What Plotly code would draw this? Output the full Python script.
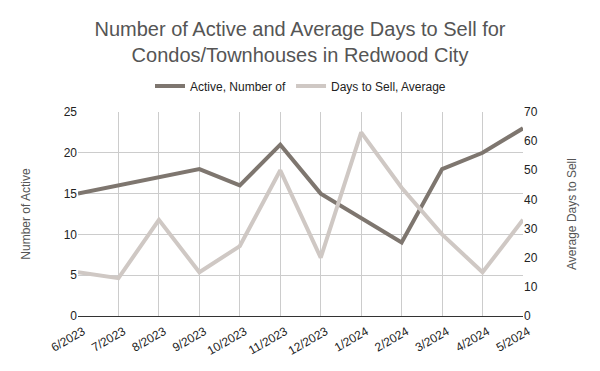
import plotly.graph_objects as go

months = ["6/2023", "7/2023", "8/2023", "9/2023", "10/2023", "11/2023",
          "12/2023", "1/2024", "2/2024", "3/2024", "4/2024", "5/2024"]
active = [15, 16, 17, 18, 16, 21, 15, 12, 9, 18, 20, 23]
days_to_sell = [15, 13, 33, 15, 24, 50, 20, 63, 44, 28, 15, 33]

font_family = "Liberation Sans, Arial, sans-serif"

fig = go.Figure()
fig.add_trace(go.Scatter(x=months, y=active, name="Active, Number of",
                         mode="lines", line=dict(color="#7e766f", width=4), yaxis="y"))
fig.add_trace(go.Scatter(x=months, y=days_to_sell, name="Days to Sell, Average",
                         mode="lines", line=dict(color="#cfc8c4", width=4), yaxis="y2"))

fig.update_layout(
    width=600, height=371,
    paper_bgcolor="white", plot_bgcolor="white",
    margin=dict(l=78, r=77, t=112, b=55, autoexpand=False),
    font=dict(family=font_family, color="#222222", size=12),
    title=dict(text="Number of Active and Average Days to Sell for<br>Condos/Townhouses in Redwood City",
               x=0.5, xanchor="center", y=0.903, yanchor="top",
               font=dict(size=20, color="#555555", family=font_family)),
    showlegend=True,
    legend=dict(orientation="h", x=0.5, xanchor="center", y=1.127, yanchor="middle",
                font=dict(size=12, color="#222222"), itemwidth=30,
                traceorder="normal"),
    xaxis=dict(type="category", range=[0, len(months) - 1], showgrid=True,
               gridcolor="#cccccc", gridwidth=1, tickangle=-30, automargin=False,
               showline=True, linecolor="#333333", linewidth=1,
               ticklabelshift=5, ticklabelstandoff=3,
               ticks="", tickfont=dict(size=12, color="#222222"), zeroline=False),
    yaxis=dict(range=[0, 25], dtick=5, showgrid=True, gridcolor="#cccccc", automargin=False,
               zeroline=False, ticks="", tickfont=dict(size=12, color="#222222"),
               title=dict(text="Number of Active", font=dict(size=12, color="#555555"), standoff=30)),
    yaxis2=dict(range=[0, 70], dtick=10, overlaying="y", side="right", showgrid=False,
                automargin=False,
                zeroline=False, ticks="", tickfont=dict(size=12, color="#222222"),
                title=dict(text="Average Days to Sell", font=dict(size=12, color="#555555"), standoff=30)),
)

fig.write_html("out.html", config={"displayModeBar": False},
               post_script="document.body.style.margin='0';")
